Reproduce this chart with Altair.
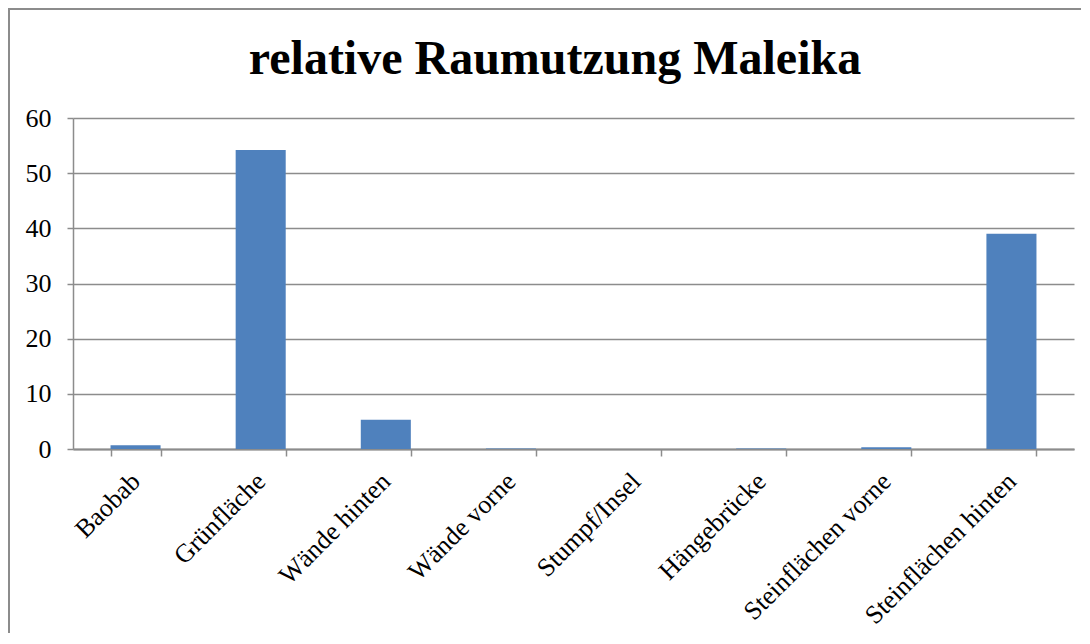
import altair as alt
import pandas as pd

categories = ["Baobab", "Grünfläche", "Wände hinten", "Wände vorne", "Stumpf/Insel",
              "Hängebrücke", "Steinflächen vorne", "Steinflächen hinten"]
values = [0.7, 54.2, 5.3, 0.1, 0.0, 0.1, 0.3, 39.0]
title_text = "relative Raumutzung Maleika"

df = pd.DataFrame({"Bereich": categories, "Wert": values})
FONT = "Liberation Serif"
GRAY = "#8c8c8c"

bars = alt.Chart(df).mark_bar(color="#4F81BD").encode(
    x=alt.X("Bereich:N", sort=categories, title=None,
            scale=alt.Scale(paddingInner=0.6, paddingOuter=0.3),
            axis=alt.Axis(labelAngle=-45, labelAlign="right", labelBaseline="middle",
                          labelPadding=21, labelFont=FONT, labelFontSize=26,
                          labelColor="black", tickBand="extent", tickSize=7,
                          tickColor=GRAY, domainColor=GRAY, domainWidth=2,
                          tickWidth=1.5, grid=False, labelLimit=400)),
    y=alt.Y("Wert:Q", title=None,
            scale=alt.Scale(domain=[0, 60], nice=False),
            axis=alt.Axis(values=[0, 10, 20, 30, 40, 50, 60], labelFont=FONT,
                          labelFontSize=26, labelColor="black", labelPadding=16,
                          tickSize=6, tickColor=GRAY, domainColor=GRAY, domainWidth=1.5,
                          tickWidth=1.5, gridColor=GRAY, gridWidth=1.5, gridOpacity=1)),
)

one = pd.DataFrame({"a": [1]})
frame_top = alt.Chart(one).mark_rule(color=GRAY, strokeWidth=2, clip=False).encode(
    x=alt.value(-64), x2=alt.value(1008), y=alt.value(-109)
)
frame_left = alt.Chart(one).mark_rule(color=GRAY, strokeWidth=2, clip=False).encode(
    x=alt.value(-64), y=alt.value(-110), y2=alt.value(515)
)

title = alt.Chart(pd.DataFrame({"t": [title_text]})).mark_text(
    font=FONT, fontSize=48, fontWeight="bold", color="black",
    align="center", baseline="alphabetic", clip=False
).encode(
    text="t:N", x=alt.value(482), y=alt.value(-44)
)

chart = alt.layer(frame_top, frame_left, bars, title).properties(
    width=1001, height=331,
    padding={"left": 65, "top": 110, "right": 8, "bottom": 185},
    autosize=alt.AutoSizeParams(type="none"),
).configure_view(stroke=None)

chart.save("out.html", embed_options={"renderer": "svg", "actions": False})
